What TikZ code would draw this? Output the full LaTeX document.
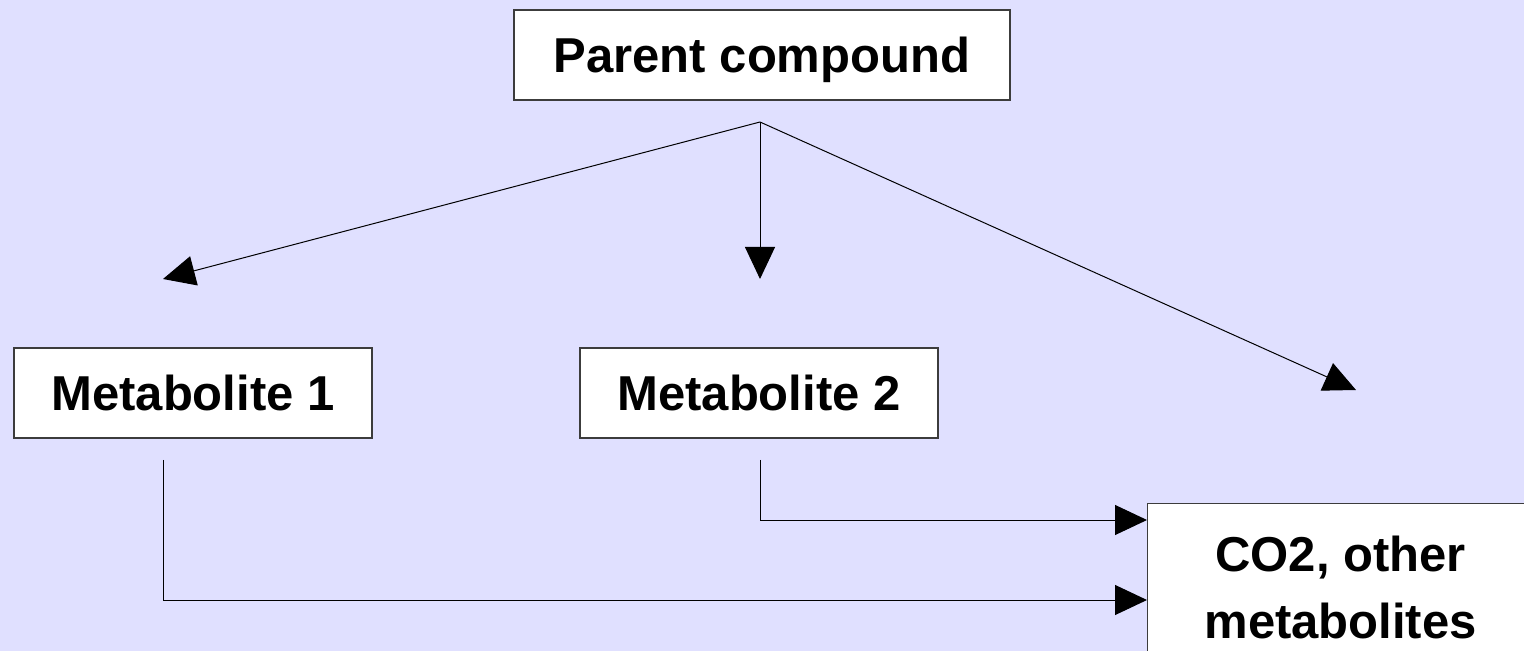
\documentclass[tikz,border=0pt]{standalone}
\usepackage{fontspec}
\setmainfont{Liberation Sans}
\usetikzlibrary{arrows.meta}
\definecolor{bgcol}{RGB}{224,224,255}
\definecolor{boxline}{RGB}{60,60,60}
\tikzset{
  boxnode/.style={draw=boxline, line width=0.6pt, fill=white, inner sep=0pt,
    font=\fontsize{24.5pt}{33.5pt}\selectfont\bfseries, align=center,
    minimum height=45pt},
  conn/.style={draw=black, line width=0.5pt, -{Triangle[length=16pt,width=15pt]}}
}
\begin{document}
\begin{tikzpicture}[x=0.5pt, y=-0.5pt]
\useasboundingbox (0,0) rectangle (1524,651);
\fill[bgcol] (0,0) rectangle (1524,651);
\clip (0,0) rectangle (1524,651);
\node[boxnode, minimum width=248pt, text depth=0pt] (parent) at (762,55) {Parent compound};
\node[boxnode, minimum width=179pt] (m1) at (193,393) {Metabolite 1};
\node[boxnode, minimum width=179pt] (m2) at (759,393) {Metabolite 2};
\node[boxnode, minimum width=193pt, minimum height=84pt, anchor=north west] (co2) at (1147,503) {CO2, other\\metabolites};
\coordinate (split) at (760,122);
\coordinate (t1) at (163,279);
\coordinate (t2) at (760,279);
\coordinate (t3) at (1356,390);
\coordinate (m1out) at (163,460);
\coordinate (m2out) at (760,460);
\coordinate (in1) at (1147,520);
\coordinate (in2) at (1147,600);
\draw[conn] (split) -- (t1);
\draw[conn] (split) -- (t2);
\draw[conn] (split) -- (t3);
\draw[conn] (m2out) |- (in1);
\draw[conn] (m1out) |- (in2);
\end{tikzpicture}
\end{document}
